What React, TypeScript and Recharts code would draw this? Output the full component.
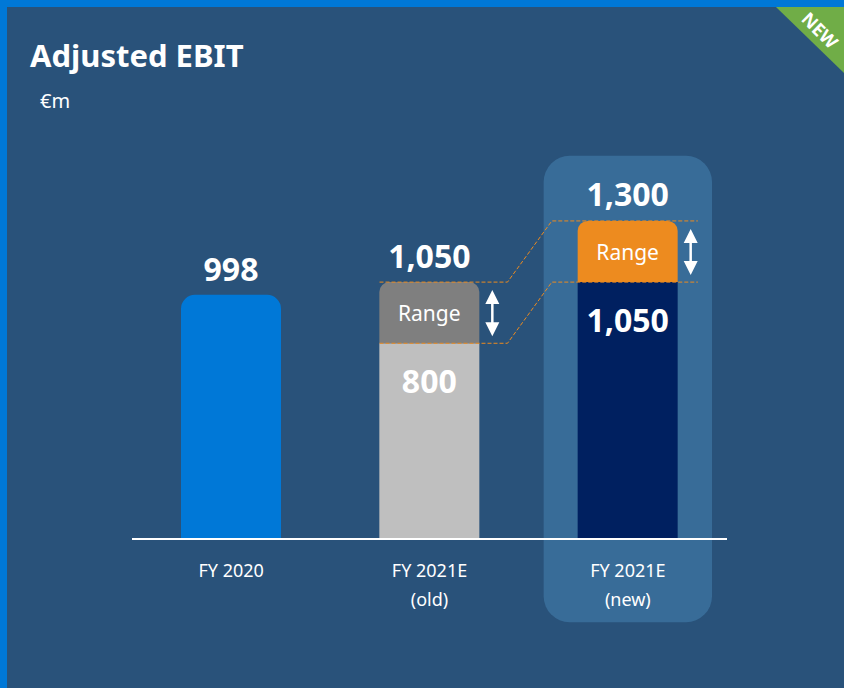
import {
  ComposedChart,
  Bar,
  XAxis,
  YAxis,
  Cell,
  LabelList,
  ReferenceArea,
  ReferenceLine,
  Rectangle,
} from "recharts";

const categories = ["FY 2020", "FY 2021E (old)", "FY 2021E (new)"];
const baseValues = [998, 800, 1050];
const rangeValues = [0, 250, 250];
const totals = [998, 1050, 1300];

const baseColors = ["#0078d7", "#bfbfbf", "#002060"];
const rangeColors = ["none", "#7f7f7f", "#ed8b1f"];

const data = categories.map((name, i) => ({
  name,
  base: baseValues[i],
  range: rangeValues[i],
}));

const FONT = "'Noto Sans', 'Open Sans', sans-serif";
const BG = "#29527a";
const BORDER = "#0078d7";
const HIGHLIGHT = "#386c98";
const ORANGE = "#ed8b1f";

const fmt = (v: number) => v.toLocaleString("en-US");

function CategoryTick(props: any) {
  const { x, y, payload } = props;
  const [first, second] = String(payload.value).split(" (");
  return (
    <g>
      <text x={x} y={y + 23} textAnchor="middle" dominantBaseline="central" fill="#fff" fontSize={18} fontFamily={FONT}>
        {first}
      </text>
      {second && (
        <text x={x} y={y + 52} textAnchor="middle" dominantBaseline="central" fill="#fff" fontSize={18} fontFamily={FONT}>
          ({second}
        </text>
      )}
    </g>
  );
}

function BaseShape(props: any) {
  const { x, y, width, height, index, fill } = props;
  const r = rangeValues[index] > 0 ? 0 : 14;
  return <Rectangle x={x} y={y} width={width} height={height} fill={fill} radius={[r, r, 0, 0]} />;
}

function RangeShape(props: any) {
  const { x, y, width, height, fill } = props;
  if (!height || height <= 0) return null;
  const ax = x + width + 13;
  const top = y + 8;
  const bottom = y + height - 7;
  return (
    <g>
      <Rectangle x={x} y={y} width={width} height={height} fill={fill} radius={[10, 10, 0, 0]} />
      <line x1={ax} x2={ax} y1={top + 10} y2={bottom - 10} stroke="#fff" strokeWidth={2.5} />
      <polygon points={`${ax},${top} ${ax - 7},${top + 14} ${ax + 7},${top + 14}`} fill="#fff" />
      <polygon points={`${ax},${bottom} ${ax - 7},${bottom - 14} ${ax + 7},${bottom - 14}`} fill="#fff" />
    </g>
  );
}

function BaseLabel(props: any) {
  const { x, y, width, index } = props;
  const inside = rangeValues[index] > 0;
  return (
    <text
      x={x + width / 2}
      y={inside ? y + 37 : y - 26}
      textAnchor="middle"
      dominantBaseline="central"
      fill="#fff"
      fontSize={32}
      fontWeight={700}
      fontFamily={FONT}
    >
      {fmt(baseValues[index])}
    </text>
  );
}

function RangeLabel(props: any) {
  const { x, y, width, height, index } = props;
  if (rangeValues[index] <= 0) return null;
  return (
    <g>
      <text x={x + width / 2} y={y + height / 2} textAnchor="middle" dominantBaseline="central" fill="#fff" fontSize={21} fontFamily={FONT}>
        Range
      </text>
      <text
        x={x + width / 2}
        y={y - 27}
        textAnchor="middle"
        dominantBaseline="central"
        fill="#fff"
        fontSize={32}
        fontWeight={700}
        fontFamily={FONT}
      >
        {fmt(totals[index])}
      </text>
    </g>
  );
}

function HighlightShape(props: any) {
  const { x, y, width, height } = props;
  const inset = 15;
  return <rect x={x + inset} y={y} width={width - inset * 2} height={height} rx={26} ry={26} fill={HIGHLIGHT} />;
}

// dashed connector: from left edge of old bar, kink in the gap, runs past the new bar
function ConnectorShape(props: any) {
  const { x1, y1, x2, y2 } = props;
  const d = `M${x1 - 50},${y1} L${x1 + 78},${y1} L${x2 - 76},${y2} L${x2 + 70},${y2}`;
  return <path d={d} fill="none" stroke={ORANGE} strokeWidth={1} strokeDasharray="4 2" />;
}

export default function App() {
  return (
    <div style={{ position: "absolute", left: 0, top: 0, width: 844, height: 688, background: BG, overflow: "hidden" }}>
      <ComposedChart
        width={844}
        height={688}
        data={data}
        margin={{ top: 172, right: 117, left: 132, bottom: 89 }}
        style={{ position: "absolute", left: 0, top: 0 }}
      >
        <XAxis
          dataKey="name"
          axisLine={{ stroke: "#fff", strokeWidth: 2 }}
          tickLine={false}
          height={60}
          interval={0}
          tick={(p: any) => <CategoryTick {...p} />}
        />
        <YAxis domain={[0, 1500]} allowDataOverflow hide />
        <ReferenceArea
          x1={categories[2]}
          x2={categories[2]}
          y1={-340}
          y2={1566}
          ifOverflow="visible"
          shape={(p: any) => <HighlightShape {...p} />}
        />
        <Bar dataKey="base" stackId="a" barSize={100} isAnimationActive={false} shape={(p: any) => <BaseShape {...p} />}>
          {data.map((d, i) => (
            <Cell key={d.name} fill={baseColors[i]} />
          ))}
          <LabelList dataKey="base" content={(p: any) => <BaseLabel {...p} />} />
        </Bar>
        <Bar dataKey="range" stackId="a" barSize={100} isAnimationActive={false} shape={(p: any) => <RangeShape {...p} />}>
          {data.map((d, i) => (
            <Cell key={d.name} fill={rangeColors[i]} />
          ))}
          <LabelList dataKey="range" content={(p: any) => <RangeLabel {...p} />} />
        </Bar>
        <ReferenceLine
          ifOverflow="visible"
          segment={[
            { x: categories[1], y: totals[1] },
            { x: categories[2], y: totals[2] },
          ]}
          shape={(p: any) => <ConnectorShape {...p} />}
        />
        <ReferenceLine
          ifOverflow="visible"
          segment={[
            { x: categories[1], y: baseValues[1] },
            { x: categories[2], y: baseValues[2] },
          ]}
          shape={(p: any) => <ConnectorShape {...p} />}
        />
      </ComposedChart>
      <svg width={844} height={688} style={{ position: "absolute", left: 0, top: 0, pointerEvents: "none" }}>
        <polygon points="776,7 844,7 844,73" fill="#70ad47" />
        <text
          x={820}
          y={30}
          transform="rotate(45 820 30)"
          textAnchor="middle"
          dominantBaseline="central"
          fill="#fff"
          fontSize={18}
          fontWeight={700}
          fontFamily={FONT}
        >
          NEW
        </text>
        <rect x={0} y={0} width={844} height={7} fill={BORDER} />
        <rect x={0} y={0} width={7} height={688} fill={BORDER} />
        <text x={30} y={67} fill="#fff" fontSize={31} fontWeight={700} fontFamily={FONT}>
          Adjusted EBIT
        </text>
        <text x={40} y={108} fill="#fff" fontSize={20} fontFamily={FONT}>
          €m
        </text>
      </svg>
    </div>
  );
}
